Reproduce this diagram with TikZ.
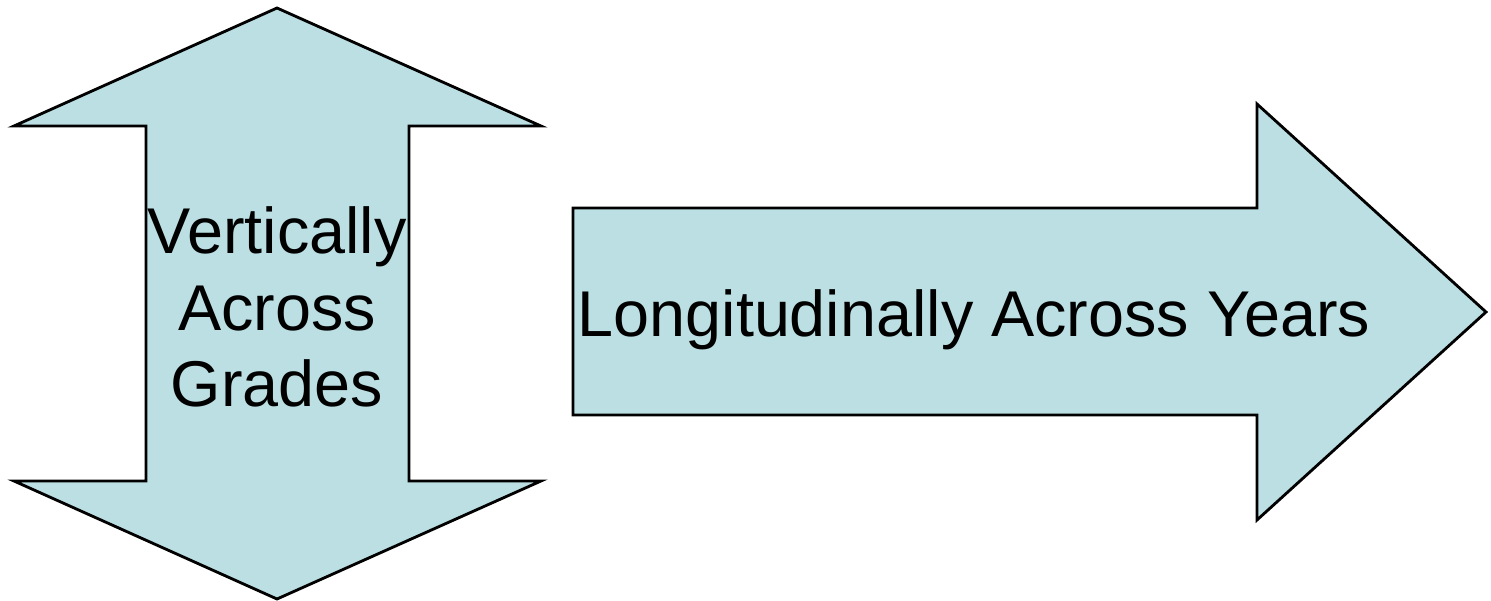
\documentclass[tikz,border=0pt]{standalone}
\usepackage{fontspec}
\setmainfont{Liberation Sans}
\usepackage{tikz}
\definecolor{arrowFill}{RGB}{187,223,227}

\begin{document}
\begin{tikzpicture}[x=0.01cm,y=-0.01cm]

          \tikzstyle{arrowShape} = [draw=black, fill=arrowFill, line width=0.8pt, line join=miter];
          \tikzstyle{arrowText} = [black, align=center, font=\fontsize{18.4}{21.8}\selectfont, inner sep=0pt];

          \useasboundingbox (0,0) rectangle (1491,600);

          % up and down arrow
          \draw[arrowShape] (277,8) -- (541,126) -- (409,126) -- (409,481) -- (541,481)
                -- (277,599) -- (14,481) -- (146,481) -- (146,126) -- (14,126) -- cycle;

          % right arrow
          \draw[arrowShape] (573,208) -- (1257,208) -- (1257,104) -- (1486,312)
                -- (1257,520) -- (1257,415) -- (573,415) -- cycle;

          \node[arrowText] (grades) at (277,307) {Vertically\\Across\\Grades};
          \node[arrowText] (years) at (974,320) {Longitudinally Across Years};
        \end{tikzpicture}
\end{document}
